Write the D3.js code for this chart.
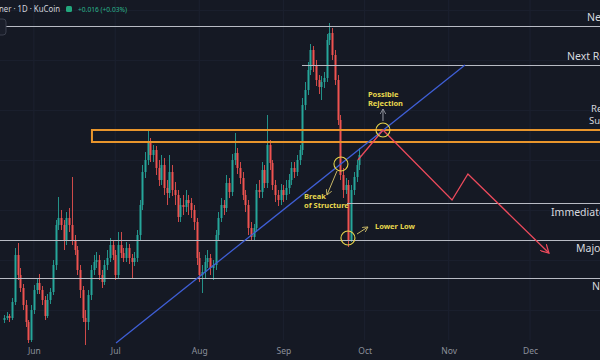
<!DOCTYPE html>
<html><head><meta charset="utf-8">
<script src="https://cdn.jsdelivr.net/npm/d3@7"></script>
<style>html,body{margin:0;padding:0;background:#151924;overflow:hidden}svg{display:block}</style>
</head><body><svg id="c" width="600" height="360"></svg>
<script>
// ---- data ----
const firstCandleDate = "2023-05-21";
const firstOpen = 0.40;
const closes = [0.42,0.44,0.42,0.58,1.05,0.85,0.72,0.55,0.38,0.20,0.50,0.70,0.77,0.70,0.60,0.44,0.60,0.68,0.95,1.35,
1.42,1.35,1.20,1.42,1.35,1.20,1.10,0.90,0.70,0.42,0.38,0.65,0.90,0.98,1.00,0.85,0.78,0.95,1.02,1.15,
1.05,0.85,1.15,1.07,1.02,1.12,1.02,0.98,1.02,1.25,1.55,1.88,2.00,2.17,2.05,2.10,1.92,1.80,1.95,1.72,
1.67,1.88,1.70,1.65,1.43,1.55,1.53,1.60,1.57,1.50,1.38,1.02,0.85,0.88,0.98,1.02,0.92,0.95,1.25,1.42,
1.55,1.52,1.77,1.68,2.00,2.07,1.92,1.82,1.65,1.55,1.32,1.23,1.32,1.70,1.68,1.90,1.77,2.15,1.97,1.75,
1.65,1.60,1.70,1.65,1.72,1.80,1.92,1.88,2.00,2.10,2.55,2.70,2.90,3.10,2.95,2.80,2.73,2.78,2.82,3.20,
3.27,3.05,2.80,2.40,1.85,1.70,1.75,1.20,1.70,1.83,1.95,2.05];
const highs = [0.45,0.48,0.46,0.62,1.12,1.17,0.92,0.76,0.60,0.40,0.55,0.75,0.82,0.86,0.74,0.64,0.66,0.72,1.00,1.40,
1.63,1.50,1.40,1.48,1.52,1.83,1.25,1.14,0.95,0.74,0.50,0.70,0.95,1.05,1.08,1.05,0.90,1.00,1.10,1.22,
1.20,1.10,1.28,1.28,1.12,1.18,1.16,1.06,1.08,1.30,1.60,1.95,2.08,2.30,2.22,2.15,2.14,2.00,2.05,2.02,
1.80,2.05,1.95,1.78,1.70,1.62,1.65,1.70,1.65,1.62,1.55,1.42,1.08,0.95,1.05,1.10,1.06,1.00,1.30,1.48,
1.62,1.60,1.85,1.82,2.06,2.27,2.12,1.98,1.88,1.70,1.60,1.38,1.36,1.76,1.80,1.98,1.95,2.45,2.20,2.00,
1.80,1.70,1.76,1.75,1.80,1.86,1.98,1.98,2.05,2.15,2.62,2.78,2.98,3.16,3.14,3.00,2.85,2.84,2.88,3.26,
3.37,3.32,3.10,2.85,2.45,1.92,1.82,1.80,1.75,1.88,2.00,2.12];
const lows = [0.37,0.40,0.38,0.40,0.55,0.80,0.68,0.50,0.33,0.17,0.18,0.46,0.66,0.66,0.55,0.40,0.42,0.56,0.65,0.90,
1.30,1.30,1.10,1.15,1.28,1.15,1.05,0.85,0.62,0.38,0.15,0.30,0.60,0.85,0.92,0.80,0.72,0.75,0.90,0.98,
1.00,0.80,0.82,1.02,0.98,0.98,0.96,0.82,0.94,0.98,1.20,1.50,1.82,1.95,1.98,1.98,1.85,1.74,1.75,1.65,
1.55,1.62,1.64,1.55,1.38,1.38,1.45,1.48,1.45,1.42,1.30,0.95,0.78,0.67,0.82,0.92,0.85,0.80,0.90,1.20,
1.38,1.45,1.48,1.62,1.64,1.95,1.86,1.76,1.60,1.48,1.25,1.20,1.20,1.28,1.62,1.62,1.72,1.72,1.90,1.70,
1.58,1.54,1.55,1.58,1.60,1.66,1.75,1.82,1.84,1.95,2.05,2.50,2.65,2.85,2.88,2.74,2.66,2.60,2.72,2.78,
3.15,3.00,2.75,2.35,1.80,1.62,1.66,1.13,1.18,1.65,1.78,1.90];
const monthTicks = ["2023-06-01","2023-07-01","2023-08-01","2023-09-01","2023-10-01","2023-11-01","2023-12-01"];
const levelLabels = ["Next Resistance","Next Resistance","Immediate Support","Major Support","Next Support"];
const levelPrices = [3.34, 2.95, 1.57, 1.20, 0.82];
const levelStarts = ["2023-05-19T12:00Z","2023-09-07T21:00Z","2023-09-24T12:00Z","2023-05-19T12:00Z","2023-05-19T12:00Z"];
const zoneStart = "2023-06-22T10:00Z";
const zoneTop = 2.30, zoneBottom = 2.18;
const zoneLabels = ["Resistance","Support"];
const trendDates = ["2023-07-01T07:00Z","2023-11-07T00:00Z"];
const trendPrices = [0.17, 2.95];
const projDates = ["2023-09-28T12:00Z","2023-10-07T18:00Z","2023-11-02T05:00Z","2023-11-08T02:00Z","2023-12-07T23:00Z"];
const projPrices = [2.00, 2.30, 1.60, 1.86, 1.07];
const circleDates = ["2023-10-07T18:00Z","2023-09-22T06:00Z","2023-09-24T20:00Z"];
const circlePrices = [2.30, 1.96, 1.22];
const noteLines = [["Possible","Rejection"],["Break","of Structure"],["Lower Low"]];
const noteDates = ["2023-10-02T05:00Z","2023-09-08T15:00Z","2023-10-04T19:00Z"];
const notePrices = [2.63, 1.61, 1.31];
const arrowFromDates = ["2023-10-07T18:00Z","2023-09-20T19:00Z","2023-09-28T04:00Z"];
const arrowFromPrices = [2.39, 1.89, 1.26];
const arrowToDates = ["2023-10-07T18:00Z","2023-09-17T02:00Z","2023-10-02T05:00Z"];
const arrowToPrices = [2.51, 1.65, 1.33];

// ---- scales ----
const W = 600, H = 360;
const svg = d3.select("#c");
const x = d3.scaleUtc().domain([new Date("2023-05-19T12:00Z"), new Date("2023-12-26T19:00Z")]).range([0, W]);
const y = d3.scaleLinear().domain([0, 3.6]).range([H, 0]);
const FONT = "Noto Sans, sans-serif";

svg.append("rect").attr("width", W).attr("height", H).attr("fill", "#151924");

// grid
const gridG = svg.append("g");
gridG.selectAll("line.v").data(monthTicks).join("line")
  .attr("x1", d => x(new Date(d))).attr("x2", d => x(new Date(d)))
  .attr("y1", 0).attr("y2", 340).attr("stroke", "#1c2130").attr("stroke-width", 1);
gridG.selectAll("line.h").data(y.ticks(7)).join("line")
  .attr("x1", 0).attr("x2", W).attr("y1", d => Math.round(y(d)) + 0.5).attr("y2", d => Math.round(y(d)) + 0.5)
  .attr("stroke", "#1a1f2d").attr("stroke-width", 1);

// candles
const start = new Date(firstCandleDate + "T00:00Z");
const candles = closes.map((c, i) => ({
  date: d3.utcDay.offset(start, i),
  open: i === 0 ? firstOpen : closes[i - 1],
  close: c, high: highs[i], low: lows[i]
}));
const up = "#26a69a", down = "#ef5350";
const cg = svg.append("g");
cg.selectAll("line").data(candles).join("line")
  .attr("x1", d => Math.round(x(d.date)) + 0.5).attr("x2", d => Math.round(x(d.date)) + 0.5)
  .attr("y1", d => y(d.high)).attr("y2", d => y(d.low))
  .attr("stroke", d => d.close >= d.open ? up : down).attr("stroke-width", 1).attr("opacity", 0.85);
cg.selectAll("rect").data(candles).join("rect")
  .attr("x", d => Math.round(x(d.date)) - 0.5).attr("width", 2)
  .attr("y", d => y(Math.max(d.open, d.close)))
  .attr("height", d => Math.max(1, Math.abs(y(d.open) - y(d.close))))
  .attr("fill", d => d.close >= d.open ? up : down);

// level lines
const lv = svg.append("g");
levelPrices.forEach((p, i) => {
  lv.append("line").attr("x1", x(new Date(levelStarts[i]))).attr("x2", W)
    .attr("y1", Math.round(y(p)) + 0.5).attr("y2", Math.round(y(p)) + 0.5)
    .attr("stroke", "#b8bbc4").attr("stroke-width", 1.1);
});
const labelX = [587, 567, 551, 576, 592];
const labelDy = [-5, -5, 13, 12, 12];
levelLabels.forEach((t, i) => {
  lv.append("text").attr("x", labelX[i]).attr("y", y(levelPrices[i]) + labelDy[i])
    .attr("fill", "#d6d8de").attr("font-family", FONT).attr("font-size", 10.5).text(t);
});

// zone
svg.append("rect").attr("x", x(new Date(zoneStart))).attr("y", y(zoneTop))
  .attr("width", W - x(new Date(zoneStart)) + 10).attr("height", y(zoneBottom) - y(zoneTop))
  .attr("fill", "none").attr("stroke", "#e8952c").attr("stroke-width", 2);
svg.append("text").attr("x", 591).attr("y", 112).attr("fill", "#d6d8de")
  .attr("font-family", FONT).attr("font-size", 9.5).text(zoneLabels[0]);
svg.append("text").attr("x", 589).attr("y", 124).attr("fill", "#d6d8de")
  .attr("font-family", FONT).attr("font-size", 9.5).text(zoneLabels[1]);

// trendline
svg.append("line")
  .attr("x1", x(new Date(trendDates[0]))).attr("y1", y(trendPrices[0]))
  .attr("x2", x(new Date(trendDates[1]))).attr("y2", y(trendPrices[1]))
  .attr("stroke", "#3f5fd6").attr("stroke-width", 1.3);

// markers
const defs = svg.append("defs");
function marker(id, color, size) {
  defs.append("marker").attr("id", id).attr("viewBox", "0 0 10 10").attr("refX", 9).attr("refY", 5)
    .attr("markerWidth", size).attr("markerHeight", size).attr("orient", "auto").attr("markerUnits", "userSpaceOnUse")
    .append("path").attr("d", "M0,0 L9,5 L0,10").attr("fill", "none").attr("stroke", color).attr("stroke-width", 1.4);
}
marker("redhead", "#ec4a5c", 9);
marker("ylhead", "#c9b867", 6);
marker("grhead", "#9a9ca4", 6);

// projection path
const proj = projDates.map((d, i) => [x(new Date(d)), y(projPrices[i])]);
svg.append("path").attr("d", d3.line()(proj)).attr("fill", "none")
  .attr("stroke", "#ec4a5c").attr("stroke-width", 1.3).attr("marker-end", "url(#redhead)");

// circles
svg.selectAll("circle.note").data(circleDates).join("circle")
  .attr("cx", d => x(new Date(d))).attr("cy", (d, i) => y(circlePrices[i])).attr("r", 7)
  .attr("fill", "none").attr("stroke", "#e6d44c").attr("stroke-width", 1.1);

// arrows
arrowFromDates.forEach((d, i) => {
  svg.append("line")
    .attr("x1", x(new Date(d))).attr("y1", y(arrowFromPrices[i]))
    .attr("x2", x(new Date(arrowToDates[i]))).attr("y2", y(arrowToPrices[i]))
    .attr("stroke", i === 0 ? "#9a9ca4" : "#c9b867").attr("stroke-width", 1)
    .attr("marker-end", i === 0 ? "url(#grhead)" : "url(#ylhead)");
});

// notes
noteLines.forEach((lines, i) => {
  const t = svg.append("text").attr("x", x(new Date(noteDates[i]))).attr("y", y(notePrices[i]))
    .attr("fill", "#e8d84e").attr("font-family", FONT).attr("font-weight", "bold").attr("font-size", 7.5);
  lines.forEach((l, j) => t.append("tspan").attr("x", x(new Date(noteDates[i]))).attr("dy", j === 0 ? 0 : 8.5).text(l));
});

// x axis
const ax = svg.append("g").attr("transform", "translate(0,343)")
  .call(d3.axisBottom(x).tickValues(monthTicks.map(d => new Date(d))).tickFormat(d3.utcFormat("%b")).tickSize(0).tickPadding(5));
ax.select(".domain").remove();
ax.selectAll("text").attr("fill", "#8c909b").attr("font-family", FONT).attr("font-size", 8.5);

// header
svg.append("text").attr("x", -1).attr("y", 12).attr("fill", "#d1d4dc")
  .attr("font-family", FONT).attr("font-size", 9.5).attr("textLength", 61).attr("lengthAdjust", "spacingAndGlyphs")
  .text("ner · 1D · KuCoin");
svg.append("rect").attr("x", 66).attr("y", 6).attr("width", 6).attr("height", 6).attr("rx", 1.5).attr("fill", "#22a77d");
svg.append("text").attr("x", 78).attr("y", 12).attr("fill", "#2bb38c")
  .attr("font-family", FONT).attr("font-size", 7.5).attr("textLength", 49).attr("lengthAdjust", "spacingAndGlyphs")
  .text("+0.016 (+0.03%)");
svg.append("rect").attr("x", -5).attr("y", 19).attr("width", 11).attr("height", 16).attr("rx", 3)
  .attr("fill", "#1a1e2a").attr("stroke", "#3a3f4c").attr("stroke-width", 1);
</script>
</body></html>
